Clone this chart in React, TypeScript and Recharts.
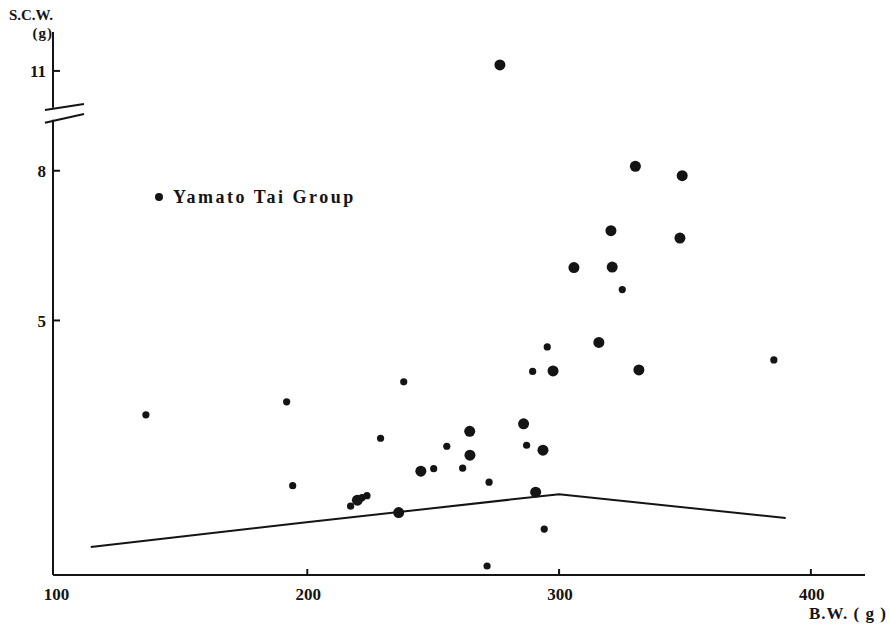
import React from 'react';
import { ScatterChart, Scatter, XAxis, YAxis, ReferenceLine } from 'recharts';

// body weight (g) vs S.C.W. (g)
const largeBW = [276.5, 330.3, 348.9, 320.6, 348.0, 305.9, 321.1, 315.8, 331.7, 297.6, 285.9, 264.5, 293.6, 264.6, 245.1, 219.9, 236.3, 290.7];
const largeSCW = [11.12, 8.09, 7.9, 6.8, 6.65, 6.06, 6.07, 4.56, 4.01, 3.99, 2.93, 2.78, 2.4, 2.3, 1.98, 1.4, 1.15, 1.56];

const smallBW = [135.9, 191.8, 238.3, 229.1, 255.4, 250.2, 261.7, 194.2, 272.2, 295.3, 289.5, 287.1, 325.1, 385.3, 294.1, 271.4, 217.2, 221.7, 223.7];
const smallSCW = [3.11, 3.37, 3.77, 2.64, 2.48, 2.03, 2.04, 1.69, 1.76, 4.47, 3.98, 2.5, 5.62, 4.21, 0.82, 0.08, 1.28, 1.45, 1.49];

const curveBW = [114, 197, 300, 390];
const curveSCW = [0.46, 0.94, 1.52, 1.04];

const xTicks = [100, 200, 300, 400];
const yTickValues = [5, 8, 11];

// axis is broken between 8 and 11: values above the break are shifted down by one unit
const BREAK_AT = 9.5;
const BREAK_SHIFT = 1;
const toDisplay = (v: number) => (v > BREAK_AT ? v - BREAK_SHIFT : v);
const fromDisplay = (v: number) => (v > BREAK_AT - BREAK_SHIFT ? v + BREAK_SHIFT : v);

const X_DOMAIN: [number, number] = [99, 421.5];
const Y_DOMAIN: [number, number] = [-0.1, 10.78];

const build = (xs: number[], ys: number[]) => xs.map((bw, i) => ({ bw, y: toDisplay(ys[i]) }));
const largeData = build(largeBW, largeSCW);
const smallData = build(smallBW, smallSCW);
const curveData = build(curveBW, curveSCW);

const INK = '#141414';
const FONT = '"Liberation Serif", "Times New Roman", serif';

const XTick = (props: any) => {
  const { x, y, payload } = props;
  return (
    <g>
      {payload.value !== 100 && <line x1={x} y1={y} x2={x} y2={y - 6} stroke={INK} strokeWidth={2} />}
      <text x={x + 1} y={y + 25} textAnchor="middle" fontFamily={FONT} fontWeight="bold" fontSize={17} fill={INK}>
        {payload.value}
      </text>
    </g>
  );
};

const YTick = (props: any) => {
  const { y, payload } = props;
  // tick x comes in at the axis position (right edge of the 1px wide axis box)
  const ax = props.x;
  return (
    <g>
      <line x1={ax} y1={y} x2={ax + 7} y2={y} stroke={INK} strokeWidth={2} />
      <text x={ax - 7} y={y} dy="0.36em" textAnchor="end" fontFamily={FONT} fontWeight="bold" fontSize={17} fill={INK}>
        {Math.round(fromDisplay(payload.value))}
      </text>
    </g>
  );
};

const dot = (r: number) => (p: any) => <circle cx={p.cx} cy={p.cy} r={r} fill={INK} />;

const textStyle: React.CSSProperties = {
  position: 'absolute',
  fontFamily: FONT,
  fontWeight: 'bold',
  color: INK,
  whiteSpace: 'nowrap',
  lineHeight: 1,
};

export default function App() {
  return (
    <div style={{ position: 'absolute', left: 0, top: 0, width: 890, height: 624, background: '#fff' }}>
      <ScatterChart width={890} height={624} margin={{ top: 32, right: 25, bottom: 19, left: 52 }}>
        <XAxis
          type="number"
          dataKey="bw"
          domain={X_DOMAIN}
          ticks={xTicks}
          allowDataOverflow
          height={30}
          tickSize={0}
          tickMargin={0}
          tickLine={false}
          axisLine={{ stroke: INK, strokeWidth: 2 }}
          tick={<XTick />}
        />
        <YAxis
          type="number"
          dataKey="y"
          domain={Y_DOMAIN}
          ticks={yTickValues.map(toDisplay)}
          allowDataOverflow
          interval={0}
          width={1}
          tickSize={0}
          tickMargin={0}
          tickLine={false}
          axisLine={false}
          tick={<YTick />}
        />
        {/* broken y axis */}
        <ReferenceLine segment={[{ x: X_DOMAIN[0], y: Y_DOMAIN[0] }, { x: X_DOMAIN[0], y: 9.02 }]} stroke={INK} strokeWidth={2} ifOverflow="visible" />
        <ReferenceLine segment={[{ x: X_DOMAIN[0], y: 9.26 }, { x: X_DOMAIN[0], y: Y_DOMAIN[1] }]} stroke={INK} strokeWidth={2} ifOverflow="visible" />
        <ReferenceLine segment={[{ x: 95.8, y: 9.217 }, { x: 111.3, y: 9.337 }]} stroke={INK} strokeWidth={2} ifOverflow="visible" />
        <ReferenceLine segment={[{ x: 95.8, y: 8.962 }, { x: 111.3, y: 9.137 }]} stroke={INK} strokeWidth={2} ifOverflow="visible" />
        <Scatter data={curveData} line={{ stroke: INK, strokeWidth: 2 }} shape={() => <g />} isAnimationActive={false} />
        <Scatter data={smallData} shape={dot(3.6)} isAnimationActive={false} />
        <Scatter data={largeData} shape={dot(5.5)} isAnimationActive={false} />
      </ScatterChart>

      <div style={{ ...textStyle, right: 890 - 53, top: 8, fontSize: 15 }}>S.C.W.</div>
      <div style={{ ...textStyle, right: 890 - 53, top: 26, fontSize: 15, letterSpacing: 1 }}>(g)</div>
      <div style={{ ...textStyle, left: 809, top: 605, fontSize: 17, letterSpacing: 1 }}>B.W. ( g )</div>

      <div style={{ ...textStyle, left: 155, top: 188, fontSize: 18, letterSpacing: 2.5, display: 'flex', alignItems: 'center' }}>
        <span style={{ display: 'inline-block', width: 8, height: 8, borderRadius: 4, background: INK, marginRight: 10 }} />
        Yamato Tai Group
      </div>
    </div>
  );
}
